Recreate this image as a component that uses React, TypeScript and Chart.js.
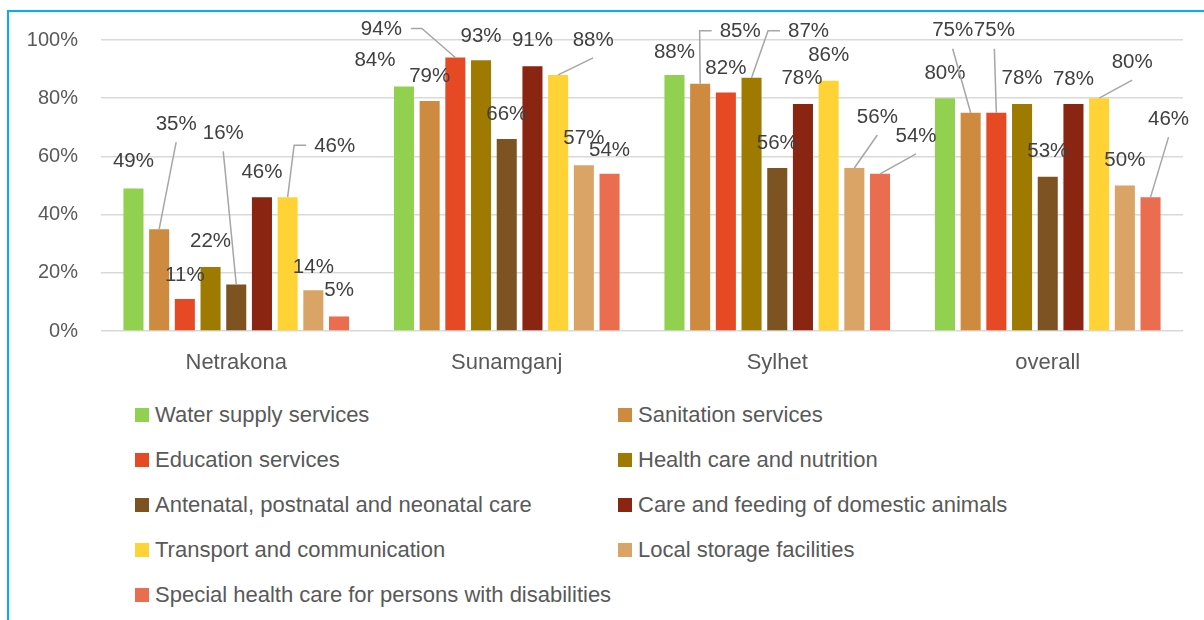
import React, { useEffect, useRef } from "react";
import { Chart, registerables } from "chart.js";

Chart.register(...registerables);

const FONT = "'Liberation Sans', Arial, sans-serif";

const categories = ["Netrakona", "Sunamganj", "Sylhet", "overall"];

const seriesNames = [
  "Water supply services",
  "Sanitation services",
  "Education services",
  "Health care and nutrition",
  "Antenatal, postnatal and neonatal care",
  "Care and feeding of domestic animals",
  "Transport and communication",
  "Local storage facilities",
  "Special health care for persons with disabilities",
];

const waterSupply = [49, 84, 88, 80];
const sanitation = [35, 79, 85, 75];
const education = [11, 94, 82, 75];
const healthCare = [22, 93, 87, 78];
const antenatalCare = [16, 66, 56, 53];
const animalCare = [46, 91, 78, 78];
const transport = [46, 88, 86, 80];
const localStorage = [14, 57, 56, 50];
const disabilityCare = [5, 54, 54, 46];

const seriesValues = [
  waterSupply,
  sanitation,
  education,
  healthCare,
  antenatalCare,
  animalCare,
  transport,
  localStorage,
  disabilityCare,
];

const seriesColors = [
  "#92D050",
  "#CE8A3E",
  "#E54A24",
  "#9E7A00",
  "#7E5322",
  "#8A2512",
  "#FFD335",
  "#D9A465",
  "#EA6D50",
];

const yTicks = [0, 20, 40, 60, 80, 100];

// label placement (style): [dx, dy, leader type] relative to the bar top centre
// leader: 0 none, 1 from label bottom, 2 elbow from label's left side, 3 elbow from label's right side
const labelOffsets: number[][][] = [
  [[0, -27, 0], [-29, -26, 0], [0, -23, 0], [0, -25, 0]],
  [[17, -105, 1], [0, -25, 0], [40, -52, 2], [-18, -82, 1]],
  [[0, -24, 0], [-74, -28, 3], [0, -24, 0], [-2, -82, 1]],
  [[0, -26, 0], [0, -24, 0], [57, -46, 2], [0, -26, 0]],
  [[-13, -151, 1], [0, -25, 0], [0, -25, 0], [0, -25, 0]],
  [[0, -25, 0], [0, -26, 0], [-1, -26, 0], [0, -25, 0]],
  [[47, -51, 2], [35, -35, 1], [0, -25, 0], [33, -36, 1]],
  [[0, -23, 0], [0, -27, 0], [23, -51, 1], [0, -25, 0]],
  [[0, -26, 0], [0, -24, 0], [36, -38, 1], [18, -78, 1]],
];

const labelPlugin = {
  id: "barValueLabels",
  afterDatasetsDraw(chart: any) {
    const ctx = chart.ctx as CanvasRenderingContext2D;
    ctx.save();
    ctx.font = `20.5px ${FONT}`;
    ctx.textAlign = "center";
    ctx.textBaseline = "middle";
    chart.data.datasets.forEach((ds: any, si: number) => {
      const meta = chart.getDatasetMeta(si);
      meta.data.forEach((bar: any, ci: number) => {
        const [dx, dy, lt] = labelOffsets[si][ci];
        const bx = bar.x;
        const by = bar.y;
        const cx = bx + dx;
        const cy = by + dy;
        const text = `${ds.data[ci]}%`;
        const w = ctx.measureText(text).width;
        if (lt) {
          ctx.beginPath();
          ctx.strokeStyle = "#A6A6A6";
          ctx.lineWidth = 1.5;
          if (lt === 1) {
            ctx.moveTo(cx, cy + 18);
            ctx.lineTo(bx, by);
          } else if (lt === 2) {
            const sx = cx - w / 2 - 8;
            ctx.moveTo(sx, cy - 1);
            ctx.lineTo(sx - 12, cy - 1);
            ctx.lineTo(bx, by);
          } else {
            const sx = cx + w / 2 + 9;
            ctx.moveTo(sx, cy - 1);
            ctx.lineTo(sx + 11, cy - 1);
            ctx.lineTo(bx, by);
          }
          ctx.stroke();
        }
        ctx.fillStyle = "#404040";
        ctx.fillText(text, cx, cy);
      });
    });
    ctx.restore();
  },
};

export default function App() {
  const ref = useRef<HTMLCanvasElement>(null);

  useEffect(() => {
    if (!ref.current) return;
    const chart = new Chart(ref.current, {
      type: "bar",
      data: {
        labels: categories,
        datasets: seriesNames.map((name, i) => ({
          label: name,
          data: seriesValues[i],
          backgroundColor: seriesColors[i],
          borderWidth: 0,
          categoryPercentage: 0.855,
          barPercentage: 0.78,
        })),
      },
      options: {
        responsive: false,
        animation: false,
        devicePixelRatio: 1,
        layout: { padding: { left: 0, right: 21, top: 40, bottom: 14 } },
        plugins: {
          legend: { display: false },
          tooltip: { enabled: false },
          title: { display: false },
        },
        scales: {
          x: {
            grid: { display: false, drawTicks: false },
            border: { display: false },
            ticks: {
              padding: 19,
              color: "#595959",
              font: { family: FONT, size: 22 },
            },
            afterFit: (scale: any) => {
              scale.height = 45;
            },
          },
          y: {
            min: 0,
            max: 100,
            afterBuildTicks: (scale: any) => {
              scale.ticks = yTicks.map((v) => ({ value: v }));
            },
            grid: { color: "#D9D9D9", lineWidth: 1.5, drawTicks: false },
            border: { display: false },
            ticks: {
              padding: 23,
              color: "#595959",
              font: { family: FONT, size: 20 },
              callback: (v: any) => `${v}%`,
            },
            afterFit: (scale: any) => {
              scale.width = 101;
            },
          },
        },
      },
      plugins: [labelPlugin],
    });
    return () => chart.destroy();
  }, []);

  const rows = Math.ceil(seriesNames.length / 2);

  return (
    <div
      style={{
        position: "fixed",
        left: 0,
        top: 0,
        width: 1204,
        height: 620,
        overflow: "hidden",
        background: "#ffffff",
      }}
    >
      <div
        style={{
          position: "absolute",
          left: 7,
          top: 10,
          width: 1300,
          height: 700,
          border: "2px solid #00B0F0",
        }}
      />
      <canvas
        ref={ref}
        width={1204}
        height={390}
        style={{ position: "absolute", left: 0, top: 0, width: 1204, height: 390 }}
      />
      {seriesNames.map((name, i) => {
        const col = i % 2;
        const row = Math.floor(i / 2);
        const cy = 415 + row * 45;
        const swatchLeft = col === 0 ? 135 : 618;
        return (
          <div
            key={name}
            style={{
              position: "absolute",
              left: swatchLeft,
              top: cy - 15,
              height: 30,
              display: "flex",
              alignItems: "center",
              whiteSpace: "nowrap",
              fontFamily: FONT,
              fontSize: 22,
              color: "#595959",
            }}
          >
            <span
              style={{
                display: "inline-block",
                width: 14,
                height: 14,
                background: seriesColors[i],
                marginRight: 6,
              }}
            />
            <span>{name}</span>
          </div>
        );
      })}
      <span style={{ display: "none" }}>{rows}</span>
    </div>
  );
}
